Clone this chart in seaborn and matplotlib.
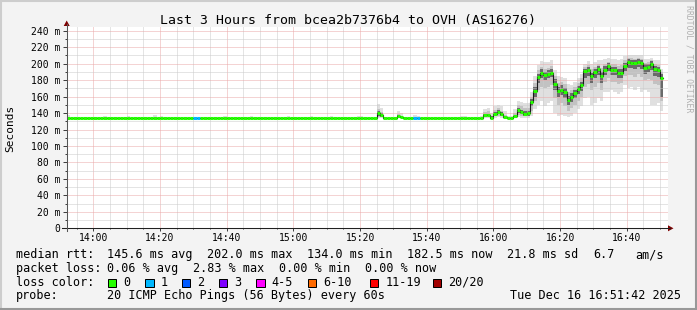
import numpy as np
import matplotlib
matplotlib.use("Agg")
import matplotlib.pyplot as plt
from matplotlib.transforms import Affine2D
from matplotlib.patches import Rectangle, Polygon
from matplotlib.lines import Line2D
import seaborn as sns

# ---------------- data ----------------
title = "Last 3 Hours from bcea2b7376b4 to OVH (AS16276)"
y_label = "Seconds"
watermark = "RRDTOOL / TOBI OETIKER"
# x axis: minutes after 13:52
x_tick_minutes = [8, 28, 48, 68, 88, 108, 128, 148, 168]
x_tick_labels = ["14:00", "14:20", "14:40", "15:00", "15:20", "15:40", "16:00", "16:20", "16:40"]
y_tick_values = [0, 20, 40, 60, 80, 100, 120, 140, 160, 180, 200, 220, 240]
y_tick_labels = ["0", "20 m", "40 m", "60 m", "80 m", "100 m", "120 m", "140 m",
                 "160 m", "180 m", "200 m", "220 m", "240 m"]

BASE = 134.3  # flat median level (ms)

# median rtt per minute (ms), minutes 0..178
median = ([BASE] * 93 + [140.5, 137.5] + [BASE] * 4 + [136.5, 135.0] + [BASE] * 24 +
          [137.5, 137.5, 134.5, 139.0, 141.5, 139.0, 135.5, 134.3, 134.3, 136.0,
           143.5, 141.0, 139.0, 139.5, 153.0, 167.0, 183.5, 189.0, 186.0, 187.5,
           189.0, 175.5, 167.0, 168.5, 165.0, 156.0, 159.0, 164.0, 169.0, 173.5,
           190.5, 191.8, 184.4, 190.0, 193.0, 184.4, 192.5, 197.4, 191.8, 192.3,
           189.0, 189.0, 197.4, 202.0, 201.0, 200.5, 202.0, 201.0, 195.0, 196.5,
           200.0, 193.0, 191.8, 182.5])

# packet-loss class per minute (index into loss_colors)
loss = [0] * 179
loss_minutes = [38, 39, 104, 105]
loss_values = [1, 1, 1, 1]

# smoke (ping spread) outer / middle / core bounds, minutes 121..178
outer_lo_tail = [134, 134, 134, 134, 134, 134, 134, 134, 135, 134, 134, 134, 134, 134,
                 135, 134, 134, 134, 136, 145, 150, 155, 148, 152, 155, 140, 137, 138,
                 136, 135, 136, 140, 145, 148, 158, 160, 150, 152, 158, 155, 165, 166,
                 168, 165, 163, 166, 174, 170, 172, 168, 172, 165, 168, 166, 150, 150,
                 152, 142]
outer_hi_tail = [135.5, 135.5, 135.5, 136, 145, 146, 140, 148, 150, 148, 142, 136, 137, 145,
                 155, 154, 152, 152, 165, 185, 198, 203, 202, 202, 204, 192, 185, 184,
                 183, 175, 174, 178, 183, 188, 200, 203, 200, 202, 205, 204, 206, 207,
                 206, 206, 205, 206, 209, 211, 211, 210, 211, 210, 206, 206, 207, 205,
                 204, 194]
mid_lo_tail = [134.3, 134.3, 134.3, 134.3, 135, 135, 134, 136, 137, 136, 134, 134.3, 134.3, 135,
               138, 137, 136, 136, 142, 155, 168, 172, 170, 172, 174, 158, 150, 152,
               148, 143, 146, 150, 155, 160, 172, 175, 168, 172, 176, 168, 178, 182,
               178, 178, 175, 176, 185, 186, 186, 184, 187, 184, 180, 181, 180, 175,
               174, 155]
mid_hi_tail = [134.5, 134.5, 134.5, 134.5, 141, 142, 137, 144, 146, 143, 138, 135, 135, 140,
               150, 148, 146, 146, 160, 176, 192, 196, 194, 195, 197, 185, 177, 178,
               175, 166, 168, 172, 177, 182, 196, 198, 193, 196, 199, 195, 200, 202,
               199, 199, 197, 198, 204, 207, 207, 206, 207, 206, 201, 202, 204, 199,
               198, 190]
core_lo_tail = [134.3, 134.3, 134.3, 134.3, 136, 136, 134, 137, 139, 137, 134, 134.3, 134.3, 135,
                140, 139, 137, 137, 148, 160, 176, 183, 180, 182, 184, 168, 160, 162,
                158, 150, 153, 158, 163, 167, 182, 185, 177, 183, 186, 177, 186, 191,
                186, 186, 183, 183, 191, 195, 195, 194, 196, 194, 188, 190, 192, 185,
                184, 160]
core_hi_tail = [134.3, 134.3, 134.3, 134.3, 139, 139, 136, 141, 144, 141, 137, 134.5, 134.5, 137,
                146, 144, 142, 142, 157, 172, 188, 193, 190, 192, 194, 181, 172, 174,
                170, 161, 164, 168, 173, 178, 194, 196, 189, 194, 197, 190, 197, 201,
                196, 196, 194, 194, 201, 206, 205, 204, 206, 205, 199, 200, 203, 197,
                196, 188]
# isolated spikes earlier in the window
spike_minutes = [93, 94, 99, 100, 104, 105]
spike_outer_hi = [151, 146, 142, 140, 137.5, 137]
spike_mid_lo = [135, 135, 134.5, 134.3, 134.3, 134.3]
spike_mid_hi = [145, 141, 139, 137, 135, 135]
spike_core_lo = [137, 135.5, 135, 134.5, 134.3, 134.3]
spike_core_hi = [143, 139.5, 137.5, 135.5, 134.3, 134.3]
# small smoke bumps on the flat part
bump_minutes = [0, 11, 18, 26, 28, 47, 55, 66, 73, 79, 87, 88, 118, 119]
bump_tops = [137.5, 136.5, 136.5, 137.5, 136.5, 136.5, 136.5, 136.5, 136.5, 136.5, 136, 136, 137, 136.5]

rtt_stats = ["145.6 ms avg", "202.0 ms max", "134.0 ms min", "182.5 ms now", "21.8 ms sd", "6.7", "am/s"]
loss_stats = ["0.06 % avg", "2.83 % max", "0.00 % min", "0.00 % now"]
loss_names = ["0", "1", "2", "3", "4-5", "6-10", "11-19", "20/20"]
loss_colors = ["#26ff00", "#00b8ff", "#0059ff", "#7e00ff", "#ff00ff", "#ff6a00", "#ff0000", "#a10000"]
probe_text = "20 ICMP Echo Pings (56 Bytes) every 60s"
timestamp = "Tue Dec 16 16:51:42 2025"

# ---------------- assemble series ----------------
n = len(median)
med = np.array(median, float)
for m, v in zip(loss_minutes, loss_values):
    loss[m] = v

outer_lo = np.full(n, 134.0)
outer_hi = med + 0.4
mid_lo = med.copy(); mid_hi = med.copy()
core_lo = med.copy(); core_hi = med.copy()
for m, v in zip(bump_minutes, bump_tops):
    outer_hi[m] = v
for i, m in enumerate(spike_minutes):
    outer_hi[m] = spike_outer_hi[i]
    mid_lo[m] = spike_mid_lo[i]; mid_hi[m] = spike_mid_hi[i]
    core_lo[m] = spike_core_lo[i]; core_hi[m] = spike_core_hi[i]
s = 121
outer_lo[s:] = outer_lo_tail; outer_hi[s:] = outer_hi_tail
mid_lo[s:] = mid_lo_tail; mid_hi[s:] = mid_hi_tail
core_lo[s:] = core_lo_tail; core_hi[s:] = core_hi_tail

t = np.arange(n)
t_edges = np.arange(n + 1)
ext = lambda a: np.append(a, a[-1])

# ---------------- figure ----------------
W, H = 697, 310
fig = plt.figure(figsize=(W / 100, H / 100), dpi=100)
fig.patch.set_facecolor("#f3f3f3")
pix = Affine2D().scale(1 / W, -1 / H).translate(0, 1) + fig.transFigure

MONO = "DejaVu Sans Mono"
x0, x1 = 66.7, 668.4
y0, y1 = 228.3, 26.6
ax = fig.add_axes([x0 / W, (H - y0) / H, (x1 - x0) / W, (y0 - y1) / H])
ax.set_facecolor("white")
ax.set_xlim(0, 180.5)
ax.set_ylim(0, 245)

# smoke
ax.fill_between(t_edges, ext(outer_lo), ext(outer_hi), step="post", color="#e0e0e0", lw=0, zorder=1)
ax.fill_between(t_edges, ext(mid_lo), ext(mid_hi), step="post", color="#c2c2c2", lw=0, zorder=1.1)
ax.fill_between(t_edges, ext(core_lo), ext(core_hi), step="post", color="#6a6a6a", lw=0, zorder=1.2)

# median: dark step line + loss-colored segments
sns.lineplot(x=t_edges, y=ext(med), drawstyle="steps-post", color="#1a1a1a",
             lw=0.8, ax=ax, estimator=None, zorder=3)
ax.hlines(med, t, t + 1, colors=[loss_colors[k] for k in loss], lw=2.2, zorder=4)

# grid
ax.set_yticks(y_tick_values)
ax.set_yticklabels(y_tick_labels)
ax.set_yticks(list(range(10, 240, 20)), minor=True)
ax.set_xticks(x_tick_minutes)
ax.set_xticklabels(x_tick_labels)
ax.set_xticks(list(range(3, 180, 5)), minor=True)
ax.set_axisbelow(False)
ax.grid(which="minor", color="#cbcbcb", ls=(0, (1, 1)), lw=0.72)
ax.grid(which="major", color="#eba8a8", ls=(0, (1, 1)), lw=0.72)
for sp in ax.spines.values():
    sp.set_visible(False)
ax.tick_params(axis="both", which="both", labelsize=7, colors="#404040", labelcolor="black",
               width=0.72)
ax.tick_params(axis="y", which="major", length=3, pad=1.6)
ax.tick_params(axis="y", which="minor", length=1.5)
ax.tick_params(axis="x", which="major", length=2, pad=1.5)
ax.tick_params(axis="x", which="minor", length=1)
for lab in ax.get_xticklabels() + ax.get_yticklabels():
    lab.set_fontfamily(MONO)

# axis lines with arrows
fig.add_artist(Line2D([62, 670], [228.3, 228.3], transform=pix, color="#202020", lw=0.75))
fig.add_artist(Line2D([66.7, 66.7], [231, 24], transform=pix, color="#555555", lw=0.75))
fig.add_artist(Polygon([[668, 225.3], [668, 231.3], [673.5, 228.3]], closed=True,
                       transform=pix, color="#7f0000", lw=0))
fig.add_artist(Polygon([[63.7, 26], [69.7, 26], [66.7, 20.5]], closed=True,
                       transform=pix, color="#7f0000", lw=0))

# texts
def ftext(x, y, s, **kw):
    kw.setdefault("family", MONO)
    kw.setdefault("fontsize", 8.5)
    kw.setdefault("va", "baseline")
    kw.setdefault("ha", "left")
    fig.text(x, y, s, transform=pix, **kw)

ftext(348, 24, title, fontsize=9.5, ha="center")
ftext(10, 128, y_label, fontsize=8, rotation=90, va="center", ha="center")
ftext(688.5, 59, watermark, fontsize=5.9, rotation=270, va="center", ha="center", color="#b0b0b0")

rows = [258.3, 272.0, 285.7, 299.4]
ftext(15.6, rows[0], "median rtt:")
for s_, x in zip(rtt_stats, [106.7, 207, 307, 407, 507, 593, 635.6]):
    ftext(x, rows[0], s_)
ftext(15.6, rows[1], "packet loss:")
for s_, x in zip(loss_stats, [106.7, 192.9, 279, 365]):
    ftext(x, rows[1], s_)
ftext(15.6, rows[2], "loss color:")
box_x = [108, 145.3, 182, 219, 256.4, 307.6, 370, 433]
for name, col, bx in zip(loss_names, loss_colors, box_x):
    fig.add_artist(Rectangle((bx, 286.7), 8.2, -8.2, transform=pix, facecolor=col,
                             edgecolor="#000000", lw=0.72))
    ftext(bx + 15.4, rows[2], name)
ftext(15.6, rows[3], "probe:")
ftext(106.7, rows[3], probe_text)
ftext(681, rows[3], timestamp, ha="right")

# 3D frame
fig.add_artist(Line2D([0, W], [0.8, 0.8], transform=pix, color="#cdcdcd", lw=1.5))
fig.add_artist(Line2D([0.8, 0.8], [0, H], transform=pix, color="#cdcdcd", lw=1.5))
fig.add_artist(Line2D([0, W], [H - 0.8, H - 0.8], transform=pix, color="#989898", lw=1.5))
fig.add_artist(Line2D([W - 0.8, W - 0.8], [0, H], transform=pix, color="#989898", lw=1.5))

fig.savefig("out.png", dpi=100, facecolor=fig.get_facecolor())
